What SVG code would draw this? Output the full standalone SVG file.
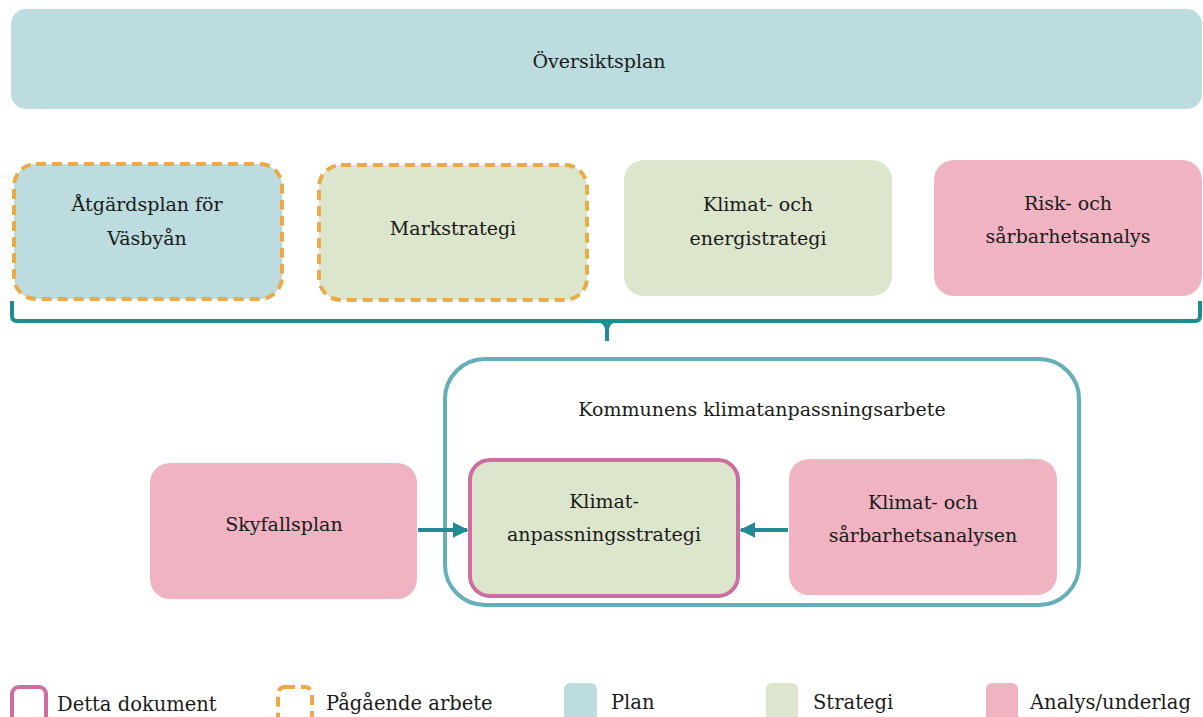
<svg xmlns="http://www.w3.org/2000/svg" width="1203" height="717" viewBox="0 0 1203 717">
<defs>
<style>
.t{font-family:"DejaVu Serif","Liberation Serif",serif;font-size:19px;fill:#1a1a1a;text-anchor:middle}
.lt{font-family:"DejaVu Serif","Liberation Serif",serif;font-size:19.5px;fill:#1a1a1a}
.plan{fill:#bddcdf}
.strat{fill:#dce6cd}
.anal{fill:#efb3c2}
.dash{stroke:#eaaa48;stroke-width:4;stroke-dasharray:10 6}
.doc{stroke:#cc6fa0;stroke-width:4}
.conn{stroke:#218a93;stroke-width:4;fill:none}
</style>
<marker id="ah" viewBox="0 0 10 10" refX="9" refY="5" markerWidth="4" markerHeight="4" orient="auto-start-reverse" markerUnits="strokeWidth">
<path d="M0,0 L10,5 L0,10 z" fill="#218a93"/>
</marker>
</defs>
<g id="oversiktsplan">
<rect x="11" y="9" width="1191" height="100" rx="15" class="plan"/>
<text class="t" x="599" y="68">Översiktsplan</text>
</g>
<g id="atgardsplan">
<rect x="14" y="164" width="268" height="135" rx="22" class="plan dash"/>
<text class="t" x="147" y="211">Åtgärdsplan för</text>
<text class="t" x="147" y="245">Väsbyån</text>
</g>
<g id="markstrategi">
<rect x="319" y="165" width="268" height="135" rx="22" class="strat dash"/>
<text class="t" x="453" y="235">Markstrategi</text>
</g>
<g id="klimatenergi">
<rect x="624" y="160" width="268" height="136" rx="20" class="strat"/>
<text class="t" x="758" y="211">Klimat- och</text>
<text class="t" x="758" y="245">energistrategi</text>
</g>
<g id="risk">
<rect x="934" y="160" width="268" height="136" rx="20" class="anal"/>
<text class="t" x="1068" y="210">Risk- och</text>
<text class="t" x="1068" y="243">sårbarhetsanalys</text>
</g>
<g id="kommunens">
<rect x="445" y="359" width="634" height="246" rx="40" fill="none" stroke="#65afb8" stroke-width="4"/>
<text class="t" x="762" y="416">Kommunens klimatanpassningsarbete</text>
</g>
<g id="skyfallsplan">
<rect x="150" y="463" width="267" height="136" rx="20" class="anal"/>
<text class="t" x="284" y="531">Skyfallsplan</text>
</g>
<g id="klimatanpassningsstrategi">
<rect x="470" y="460" width="268" height="136" rx="20" class="strat doc"/>
<text class="t" x="604" y="508">Klimat-</text>
<text class="t" x="604" y="541">anpassningsstrategi</text>
</g>
<g id="sarbarhetsanalysen">
<rect x="789" y="459" width="268" height="136" rx="20" class="anal"/>
<text class="t" x="923" y="509">Klimat- och</text>
<text class="t" x="923" y="542">sårbarhetsanalysen</text>
</g>
<g id="connectors">
<path class="conn" d="M12,301 V316 Q12,321 17,321 H1195 Q1200,321 1200,316 V301"/>
<path d="M601,321 Q607,324 607,330 V341" class="conn"/>
<path d="M613,321 Q607,324 607,330" class="conn"/>
<line x1="418" y1="530" x2="467" y2="530" class="conn" marker-end="url(#ah)"/>
<line x1="788" y1="530" x2="741" y2="530" class="conn" marker-end="url(#ah)"/>
</g>
<g id="legend">
<rect x="12" y="687" width="34" height="40" rx="7" fill="none" class="doc"/>
<text class="lt" x="57" y="711">Detta dokument</text>
<rect x="278" y="687" width="34" height="40" rx="7" fill="none" class="dash"/>
<text class="lt" x="326" y="710">Pågående arbete</text>
<rect x="564" y="683" width="33" height="40" rx="6" class="plan"/>
<text class="lt" x="611" y="709">Plan</text>
<rect x="766" y="683" width="32" height="40" rx="6" class="strat"/>
<text class="lt" x="813" y="709">Strategi</text>
<rect x="986" y="683" width="32" height="40" rx="6" class="anal"/>
<text class="lt" x="1030" y="709">Analys/underlag</text>
</g>
</svg>
